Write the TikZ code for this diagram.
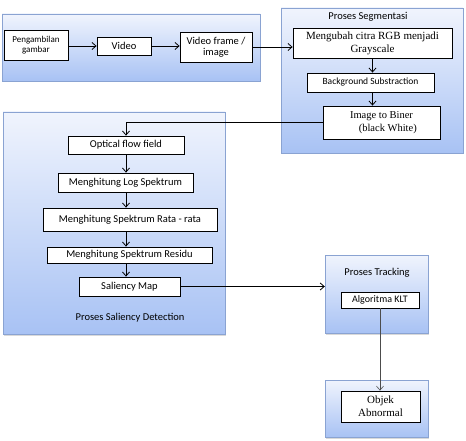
\documentclass[tikz,border=0pt]{standalone}
\usepackage{fontspec}
\setmainfont{Liberation Serif}
\setsansfont{Carlito}
\usetikzlibrary{arrows.meta,shadows}

\definecolor{grptop}{RGB}{240,244,253}
\definecolor{grpbot}{RGB}{168,194,244}
\definecolor{grpline}{RGB}{138,163,210}

\begin{document}
\begin{tikzpicture}[x=1pt, y=-1pt,
  >={Straight Barb[length=4pt, width=7pt]},
  grp/.style={draw=grpline, top color=grptop, bottom color=grpbot,
              drop shadow={shadow xshift=1pt, shadow yshift=-1.5pt, opacity=0.3}},
  box/.style={draw, thick, fill=white, align=center, inner sep=1pt,
              font=\sffamily\fontsize{10.5}{11}\selectfont},
  sbox/.style={box, font=\rmfamily\fontsize{10.5}{12.5}\selectfont},
  ttl/.style={font=\sffamily\fontsize{10.5}{11}\selectfont, inner sep=0pt},
  ln/.style={->, thick}]
  \useasboundingbox (0,0) rectangle (466,441);

  % groups
  \node[grp, minimum width=258, minimum height=67] (cap) at (131,47.5) {};
  \node[grp, minimum width=182, minimum height=145] (seg) at (372,80.5) {};
  \node[grp, minimum width=222, minimum height=222] (sal) at (114,223) {};
  \node[grp, minimum width=103, minimum height=78] (trk) at (376.5,294) {};
  \node[grp, minimum width=103, minimum height=57] (obg) at (376.5,408.5) {};

  \node[ttl] (tseg) at (368,17) {Proses Segmentasi};
  \node[ttl] (tsal) at (130,318) {Proses Saliency Detection};
  \node[ttl] (ttrk) at (377,273) {Proses Tracking};

  % capture
  \node[box, minimum width=64, minimum height=30,
        font=\sffamily\fontsize{9}{10.5}\selectfont] (pg) at (36,45) {Pengambilan\\gambar};
  \node[box, minimum width=54, minimum height=18] (vid) at (124,46) {Video};
  \node[box, minimum width=72, minimum height=30] (vf) at (216,47) {Video frame /\\image};

  % segmentation
  \node[sbox, minimum width=159, minimum height=30,
        font=\rmfamily\fontsize{11}{13}\selectfont] (mg) at (372.5,43) {Mengubah citra RGB menjadi\\Grayscale};
  \node[box, minimum width=127, minimum height=19,
        font=\sffamily\fontsize{9.5}{11}\selectfont] (bg) at (370.5,82.5) {Background Substraction};
  \node[sbox, minimum width=117, minimum height=33] (ib) at (381.5,122.5) {Image to Biner\\\hspace*{1.2em}(black White)};

  % saliency
  \node[box, minimum width=116, minimum height=18] (opt) at (126,145) {Optical flow field};
  \node[box, minimum width=135, minimum height=19] (log) at (125.5,182.5) {Menghitung Log Spektrum};
  \node[box, minimum width=174, minimum height=23] (rata) at (130,219.5) {Menghitung Spektrum Rata - rata};
  \node[box, minimum width=165, minimum height=16] (res) at (129.5,255) {Menghitung Spektrum Residu};
  \node[box, minimum width=101, minimum height=19] (smap) at (129.5,286.5) {Saliency Map};

  % tracking
  \node[box, minimum width=78, minimum height=16, font=\sffamily\fontsize{10}{11}\selectfont] (klt) at (380,300) {Algoritma KLT};
  \node[sbox, minimum width=79, minimum height=31,
        font=\rmfamily\fontsize{11}{13}\selectfont] (ob) at (380.5,406.5) {Objek\\Abnormal};

  \draw[ln] (pg.east |- vid) -- (vid.west);
  \draw[ln] (vid.east) -- (vid.east -| vf.west);
  \draw[ln] (vf.east) -- (vf.east -| mg.west);
  \draw[ln] (mg.south) -- (mg.south |- bg.north);
  \draw[ln] (mg.south |- bg.south) -- (mg.south |- ib.north);
  \draw[ln] (ib.west) -| (opt.north);
  \draw[ln] (opt.south) -- (opt.south |- log.north);
  \draw[ln] (opt.south |- log.south) -- (opt.south |- rata.north);
  \draw[ln] (opt.south |- rata.south) -- (opt.south |- res.north);
  \draw[ln] (opt.south |- res.south) -- (opt.south |- smap.north);
  \draw[ln] (smap.east) -- (smap.east -| trk.west);
  \draw[->, semithick, black!70] (klt.south) -- (klt.south |- ob.north);
\end{tikzpicture}
\end{document}
